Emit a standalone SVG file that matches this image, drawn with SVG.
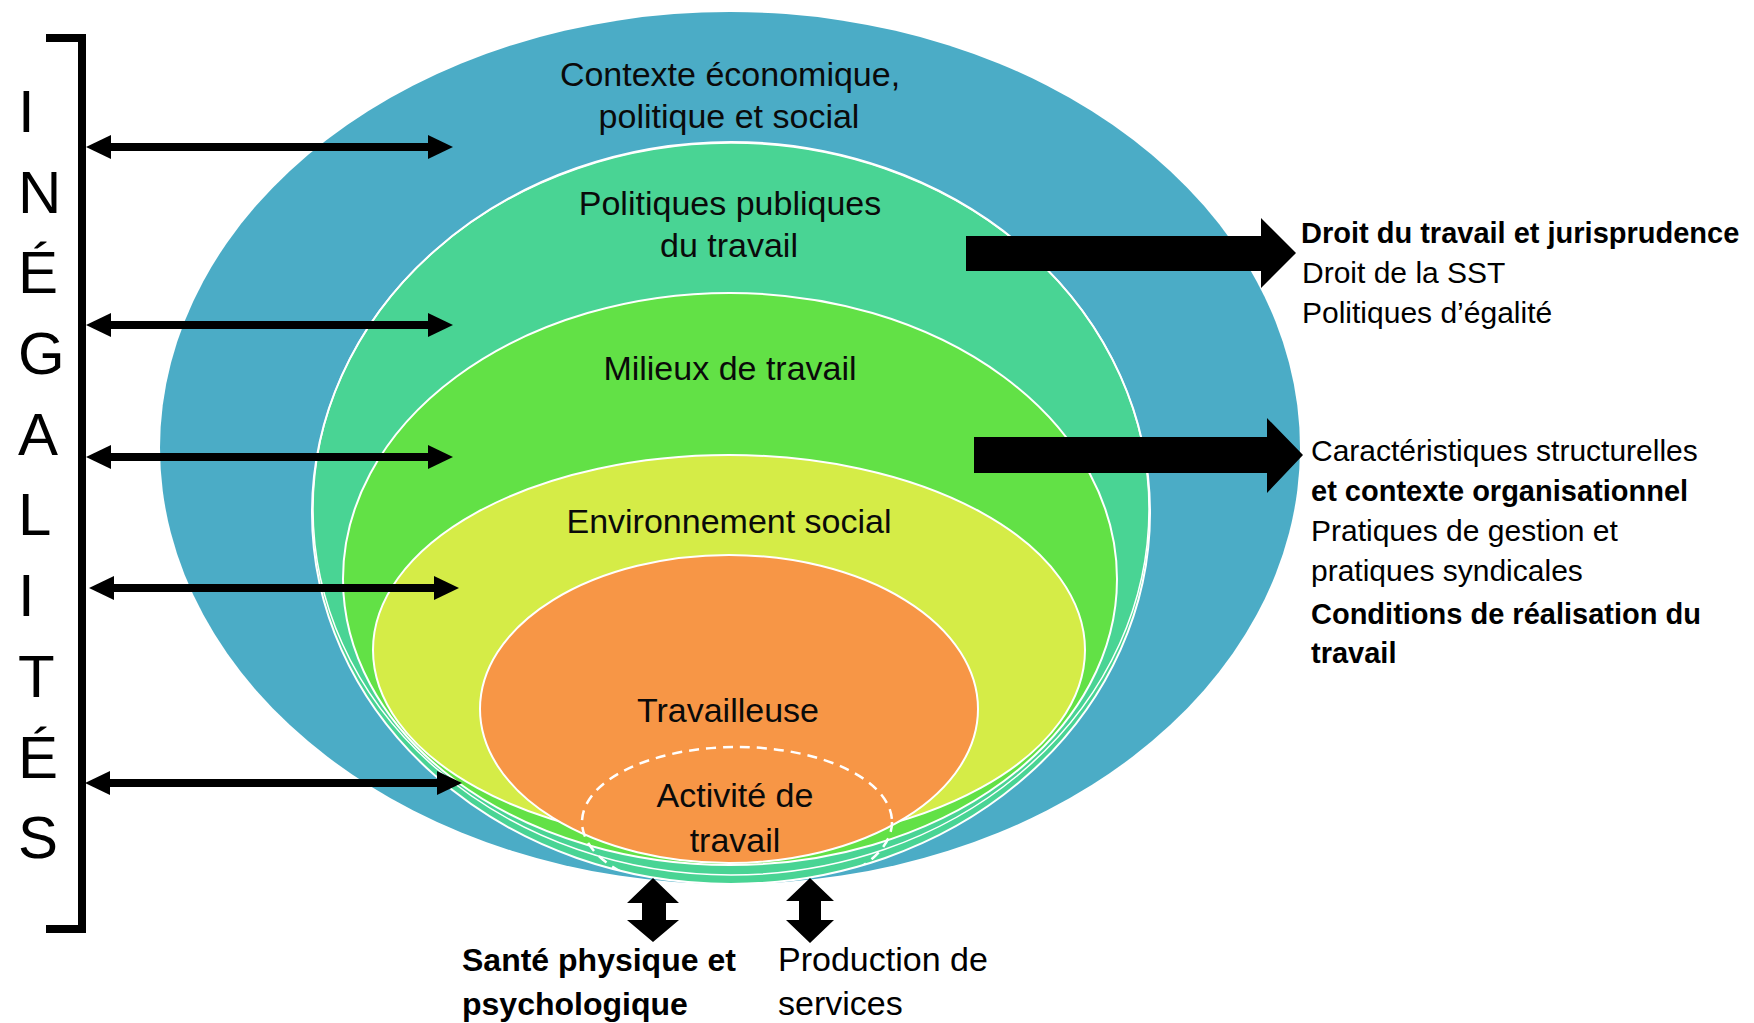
<svg xmlns="http://www.w3.org/2000/svg" width="1754" height="1023" viewBox="0 0 1754 1023">
<style>
.lbl{font-family:"Liberation Sans",Arial,sans-serif;font-size:34px;fill:#0a0a0a;text-anchor:middle}
.side{font-family:"Liberation Sans",Arial,sans-serif;font-size:30px;fill:#000}
.sb{font-weight:bold;font-size:29px}
.bot{font-family:"Liberation Sans",Arial,sans-serif;font-size:34px;fill:#000}
.botb{font-weight:bold;font-size:32px}
.ring{stroke:#fff;stroke-width:2}
.letter{font-family:"Liberation Sans",Arial,sans-serif;font-size:60px;fill:#000}
.conn{stroke:#000;stroke-width:8;fill:none}
.big{fill:#000}
</style>
<defs>
<marker id="ah" viewBox="0 0 25 24" refX="5" refY="12" markerWidth="25" markerHeight="24" markerUnits="userSpaceOnUse" orient="auto-start-reverse">
<path d="M0,0 L25,12 L0,24 Z" fill="#000"/>
</marker>
<clipPath id="clipTeal"><ellipse cx="731" cy="513" rx="419" ry="371"/></clipPath>
</defs>
<rect width="1754" height="1023" fill="#fff"/>

<g id="contexte">
<ellipse cx="730" cy="448" rx="570" ry="436" fill="#4BACC6"/>
<text class="lbl" x="730" y="86">Contexte économique,</text>
<text class="lbl" x="729" y="128">politique et social</text>
</g>
<g id="politiques">
<ellipse class="ring" cx="731" cy="513" rx="419" ry="371" fill="#49D494"/>
<ellipse cx="731" cy="509" rx="418" ry="366" fill="none" stroke="#fff" stroke-width="1.5"/>
<text class="lbl" x="730" y="215">Politiques publiques</text>
<text class="lbl" x="729" y="257">du travail</text>
</g>
<g id="milieux">
<ellipse class="ring" cx="730" cy="579" rx="387" ry="286" fill="#62E146"/>
<text class="lbl" x="730" y="380">Milieux de travail</text>
</g>
<g id="environnement">
<ellipse class="ring" cx="729" cy="650" rx="356" ry="195" fill="#D5EC47"/>
<text class="lbl" x="729" y="533">Environnement social</text>
</g>
<g id="travailleuse">
<ellipse class="ring" cx="729" cy="709" rx="249" ry="154" fill="#F79646"/>
<text class="lbl" x="728" y="722">Travailleuse</text>
</g>
<g id="activite">
<ellipse cx="737" cy="822" rx="155" ry="75" fill="none" stroke="#fff" stroke-width="2.5" stroke-dasharray="10 7" clip-path="url(#clipTeal)"/>
<text class="lbl" x="735" y="807">Activité de</text>
<text class="lbl" x="735" y="852">travail</text>
</g>

<g id="inegalites">
<path d="M46,38 H82 V929 H46" stroke="#000" stroke-width="8" fill="none"/>
<text class="letter" x="18" y="132">I</text>
<text class="letter" x="18" y="213">N</text>
<text class="letter" x="18" y="293">É</text>
<text class="letter" x="18" y="374">G</text>
<text class="letter" x="18" y="455">A</text>
<text class="letter" x="18" y="535">L</text>
<text class="letter" x="18" y="616">I</text>
<text class="letter" x="18" y="697">T</text>
<text class="letter" x="18" y="778">É</text>
<text class="letter" x="18" y="858">S</text>
</g>

<g id="droit">
<text class="side sb" x="1301" y="243">Droit du travail et jurisprudence</text>
<text class="side" x="1302" y="283">Droit de la SST</text>
<text class="side" x="1302" y="323">Politiques d’égalité</text>
</g>
<g id="caracteristiques">
<text class="side" x="1311" y="461">Caractéristiques structurelles</text>
<text class="side sb" x="1311" y="501">et contexte organisationnel</text>
<text class="side" x="1311" y="541">Pratiques de gestion et</text>
<text class="side" x="1311" y="581">pratiques syndicales</text>
<text class="side sb" x="1311" y="624">Conditions de réalisation du</text>
<text class="side sb" x="1311" y="663">travail</text>
</g>
<g id="sante">
<text class="bot botb" x="462" y="971">Santé physique et</text>
<text class="bot botb" x="462" y="1015">psychologique</text>
</g>
<g id="production">
<text class="bot" x="778" y="971">Production de</text>
<text class="bot" x="778" y="1015">services</text>
</g>

<g id="connectors">
<line class="conn" x1="106" y1="147" x2="433" y2="147" marker-start="url(#ah)" marker-end="url(#ah)"/>
<line class="conn" x1="106" y1="325" x2="433" y2="325" marker-start="url(#ah)" marker-end="url(#ah)"/>
<line class="conn" x1="106" y1="457" x2="433" y2="457" marker-start="url(#ah)" marker-end="url(#ah)"/>
<line class="conn" x1="109" y1="588" x2="439" y2="588" marker-start="url(#ah)" marker-end="url(#ah)"/>
<line class="conn" x1="105" y1="783" x2="442" y2="783" marker-start="url(#ah)" marker-end="url(#ah)"/>
<path class="big" d="M966,236 H1261 V218 L1296,253 L1261,288 V271 H966 Z"/>
<path class="big" d="M974,437 H1267 V418 L1303,455 L1267,493 V473 H974 Z"/>
<path class="big" d="M653,878 L679,903 L666,903 L666,920 L679,920 L653,942 L627,920 L642,920 L642,903 L627,903 Z"/>
<path class="big" d="M810,878 L834,901 L821,901 L821,920 L834,920 L810,943 L786,920 L799,920 L799,901 L786,901 Z"/>
</g>
</svg>
